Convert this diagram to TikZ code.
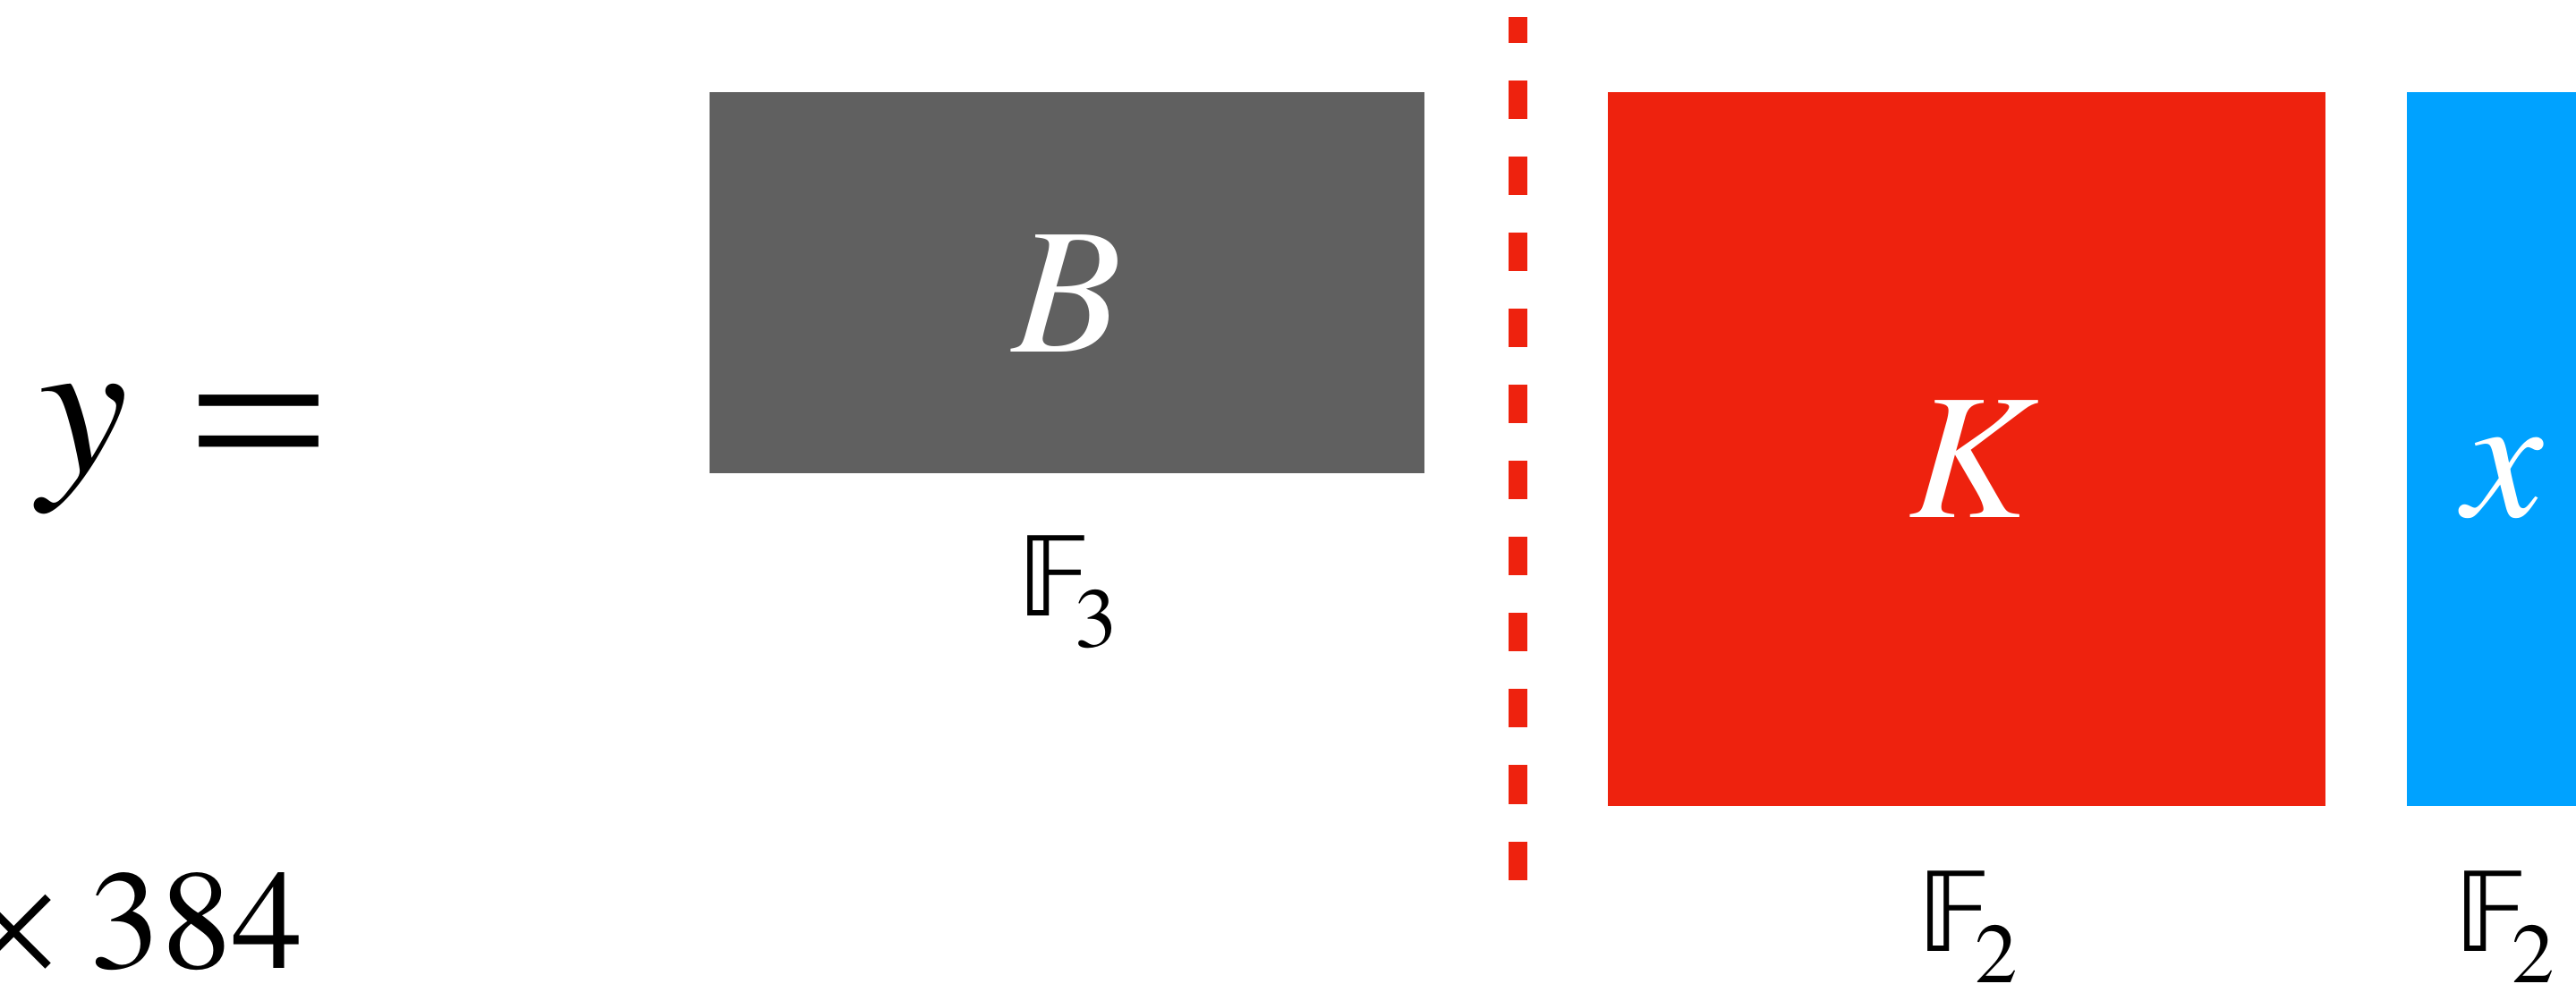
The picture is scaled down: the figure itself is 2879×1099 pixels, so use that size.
\documentclass[tikz,border=0pt]{standalone}
\usepackage{amsmath}
\usepackage{txfonts}
\usepackage[no-math]{fontspec}
\newfontfamily\dsfont{DejaVu Sans}
\usepackage{graphicx}
\usepackage{tikz}
\usetikzlibrary{positioning}
\definecolor{blockgray}{RGB}{96,96,96}
\definecolor{blockred}{RGB}{238,34,14}
\definecolor{blockblue}{RGB}{0,162,255}
\newcommand{\fieldlbl}[1]{{\dsfont 𝔽}\kern-0.18cm\raisebox{-0.35cm}{\fontsize{27}{32}\selectfont$#1$}}
\tikzset{
  blk/.style={inner sep=0pt,outer sep=0pt,anchor=north west},
  lbl/.style={text=white,inner sep=0pt,font=\fontsize{57}{68}\selectfont},
  fld/.style={inner sep=0pt,anchor=base west,font=\fontsize{35}{42}\selectfont},
  cut/.style={draw=blockred,line width=0.21cm,dash pattern=on 0.43cm off 0.42cm,dash phase=0.14cm},
}
\begin{document}
\begin{tikzpicture}[x=0.01cm,y=-0.01cm]
\useasboundingbox (0,0) rectangle (2879,1099);
%\draw[help lines] (0,0) grid[step=100] (2879,1099);
% left hand side
\node[anchor=base west,inner sep=0pt,font=\fontsize{64}{77}\selectfont] (lhs) at (43,528) {$y \mathrel{\scalebox{1.16}[1]{$=$}}$};
\node[anchor=base east,inner sep=0pt,font=\fontsize{45}{54}\selectfont] (rep) at (339,1082) {$\times\mkern4mu 384$};
%
% blocks
\node[blk,fill=blockgray,minimum width=7.99cm,minimum height=4.26cm] (Bblk) at (793,103) {};
\node[blk,fill=blockred,minimum width=8.01cm,minimum height=7.98cm] (Kblk) at (1797,103) {};
\node[blk,fill=blockblue,minimum width=4cm,minimum height=7.98cm] (xblk) at (2690,103) {};
\foreach \p/\n/\t in {(1188,328)/B/B,(2203,513)/K/K,(2793,534)/x/x}
\node[lbl] (l\n) at \p {$\t$};
%
% fields
\foreach \p/\n/\q in {(1136,688)/B/3,(2142,1063)/K/2,(2742,1063)/x/2}
\node[fld] (f\n) at \p {\fieldlbl{\q}};
%
% split
\coordinate (cuttop) at (1696,19);
\coordinate (cutbot) at (1696,989);
\draw[cut] (cuttop) -- (cutbot);
\end{tikzpicture}
\end{document}
